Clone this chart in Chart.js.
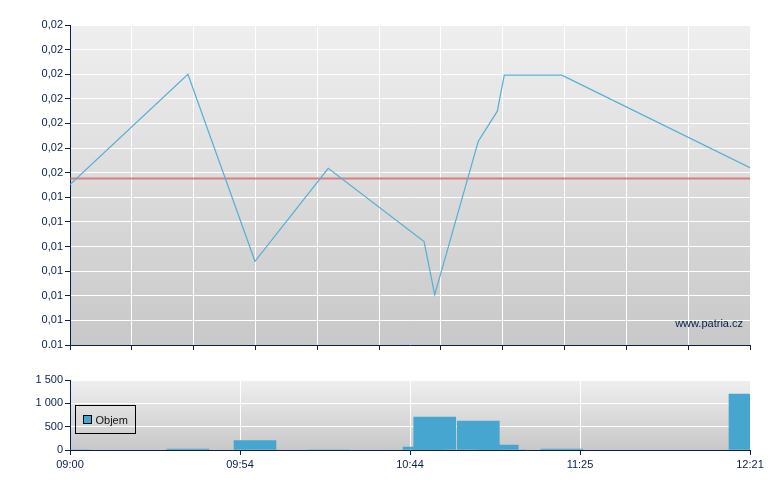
<!DOCTYPE html>
<html>
<head>
<meta charset="utf-8">
<script src="https://cdn.jsdelivr.net/npm/chart.js@4.4.1/dist/chart.umd.min.js"></script>
<style>
  body { margin: 0; background: #fff; }
  #wrap { position: relative; width: 780px; height: 490px; }
  canvas { position: absolute; left: 0; }
  #price { top: 0; }
  #volume { top: 360px; }
</style>
</head>
<body>
<div id="wrap">
  <canvas id="price" width="780" height="360"></canvas>
  <canvas id="volume" width="780" height="130"></canvas>
</div>
<script>
// trade positions along the time axis (axis slots, 0 = 09:00, 44 = 12:21)
const slots = [0, 7.63, 11.97, 16.71, 22.91, 23.6, 26.42, 27.65, 28.1, 31.82, 44];
const prices = [0.01526, 0.0175, 0.0137, 0.01559, 0.0141, 0.01302, 0.01614, 0.01675, 0.01748, 0.01748, 0.0156];
const volumes = [0, 20, 200, 0, 60, 707, 621, 107, 0, 20, 1200];
const referencePrice = 0.01538;
const timeLabels = ['09:00', '09:54', '10:44', '11:25', '12:21'];

const navy = '#0a1f4f';
const font = { family: "'Liberation Sans', Arial, sans-serif", size: 11 };

// gradient behind the plot area
const backdrop = {
  id: 'backdrop',
  beforeDraw(chart) {
    const { ctx, chartArea: a } = chart;
    const g = ctx.createLinearGradient(0, a.top, 0, a.bottom);
    g.addColorStop(0, '#efefef');
    g.addColorStop(1, '#c8c8c8');
    ctx.save();
    ctx.fillStyle = g;
    ctx.fillRect(a.left, a.top, a.right - a.left, a.bottom - a.top);
    ctx.restore();
  }
};

const watermark = {
  id: 'watermark',
  afterDraw(chart) {
    const { ctx, chartArea: a } = chart;
    ctx.save();
    ctx.font = `${font.size}px ${font.family}`;
    ctx.fillStyle = navy;
    ctx.textAlign = 'right';
    ctx.textBaseline = 'middle';
    ctx.fillText('www.patria.cz', a.right - 7, a.bottom - 21);
    ctx.restore();
  }
};

const boxLegend = {
  id: 'boxLegend',
  afterDraw(chart) {
    const { ctx, chartArea: a } = chart;
    const ds = chart.data.datasets[0];
    const x = a.left + 5.5, y = a.top + 25.5;
    ctx.save();
    ctx.strokeStyle = '#000';
    ctx.lineWidth = 1;
    ctx.strokeRect(x, y, 60, 28);
    ctx.fillStyle = ds.backgroundColor;
    ctx.fillRect(x + 8, y + 10, 8, 8);
    ctx.strokeRect(x + 8, y + 10, 8, 8);
    ctx.font = `${font.size}px ${font.family}`;
    ctx.fillStyle = '#111';
    ctx.textBaseline = 'middle';
    ctx.fillText(ds.label, x + 20, y + 15);
    ctx.restore();
  }
};

new Chart(document.getElementById('price'), {
  type: 'line',
  data: {
    datasets: [
      {
        label: 'Cena',
        data: slots.map((s, i) => ({ x: s, y: prices[i] })),
        borderColor: '#55aed6',
        borderWidth: 1.2,
        pointRadius: 0,
        tension: 0
      },
      {
        label: 'Reference',
        data: [{ x: slots[0], y: referencePrice }, { x: slots[slots.length - 1], y: referencePrice }],
        borderColor: 'rgba(215, 95, 95, 0.75)',
        borderWidth: 2,
        pointRadius: 0
      }
    ]
  },
  options: {
    responsive: false,
    animation: false,
    layout: { padding: { top: 25, right: 30, left: 0, bottom: 0 } },
    plugins: { legend: { display: false }, tooltip: { enabled: false } },
    scales: {
      x: {
        type: 'linear',
        min: 0,
        max: 44,
        ticks: { display: false, stepSize: 4 },
        grid: { color: '#ffffff', tickColor: navy, tickLength: 5 },
        border: { color: navy, width: 1 },
        afterFit: s => { s.height = 15; }
      },
      y: {
        min: 0.012,
        max: 0.0185,
        ticks: {
          stepSize: 0.0005,
          color: navy,
          font,
          padding: 2,
          callback: (v, i) => i === 0 ? v.toFixed(2) : v.toFixed(2).replace('.', ',')
        },
        grid: { color: '#ffffff', tickColor: navy, tickLength: 5 },
        border: { color: navy, width: 1 },
        afterFit: s => { s.width = 70; }
      }
    }
  },
  plugins: [backdrop, watermark]
});

new Chart(document.getElementById('volume'), {
  type: 'bar',
  data: {
    datasets: [{
      label: 'Objem',
      data: slots.map((s, i) => ({ x: s, y: volumes[i] })),
      backgroundColor: '#47a6cf',
      barThickness: 42,
      clip: 0
    }]
  },
  options: {
    responsive: false,
    animation: false,
    layout: { padding: { top: 20, right: 30, left: 0, bottom: 0 } },
    plugins: { legend: { display: false }, tooltip: { enabled: false } },
    scales: {
      x: {
        type: 'linear',
        min: 0,
        max: 44,
        offset: false,
        ticks: {
          stepSize: 11,
          color: navy,
          font,
          padding: 3,
          maxRotation: 0,
          callback: v => timeLabels[v / 11]
        },
        grid: { offset: false, color: '#ffffff', tickColor: navy, tickLength: 5 },
        border: { color: navy, width: 1 },
        afterFit: s => { s.height = 40; }
      },
      y: {
        min: 0,
        max: 1500,
        ticks: {
          stepSize: 500,
          color: navy,
          font,
          padding: 2,
          callback: v => String(v).replace(/\B(?=(\d{3})+(?!\d))/g, ' ')
        },
        grid: { color: '#ffffff', tickColor: navy, tickLength: 5 },
        border: { color: navy, width: 1 },
        afterFit: s => { s.width = 70; }
      }
    }
  },
  plugins: [backdrop, boxLegend]
});
</script>
</body>
</html>
